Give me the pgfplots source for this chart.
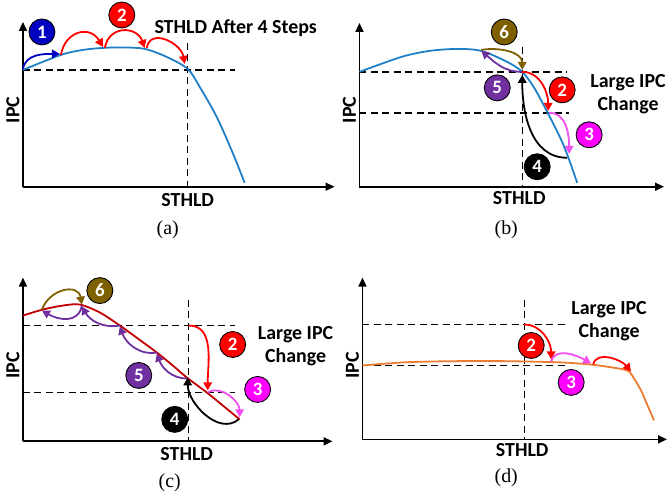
\documentclass[border=0pt]{standalone}
\usepackage{pgfplots}
\pgfplotsset{compat=1.18}
\usetikzlibrary{arrows.meta}
\usepackage{fontspec}
\setmainfont{Carlito}
\newfontfamily\capfont{Liberation Serif}
\definecolor{cblue}{HTML}{1F80C8}
\definecolor{dblue}{HTML}{0000C0}
\definecolor{cred}{HTML}{FF0000}
\definecolor{brn}{HTML}{7F6000}
\definecolor{purp}{HTML}{7030A0}
\definecolor{mag}{HTML}{FF00FF}
\definecolor{mag2}{HTML}{F050F0}
\definecolor{dred}{HTML}{C00000}
\definecolor{orng}{HTML}{ED7D31}
\pgfplotsset{sch/.style={axis lines=left, x=1bp, y=1bp, xmin=0, ymin=0,
  enlargelimits=false, xtick=\empty, ytick=\empty, clip=false, anchor=south west,
  axis line style={line width=1.7bp, -{Triangle[width=8bp,length=9bp]}}},
  dsh/.style={black, line width=1.4bp, dash pattern=on 7bp off 4.5bp, no markers}}
\tikzset{arr/.style={line width=1.8bp, -{Triangle[width=8.5bp,length=8bp]}},
  num/.style={circle, draw=black, line width=0.9bp, minimum size=26bp, inner sep=0pt,
    text=white, font=\bfseries\fontsize{19}{19}\selectfont},
  lab/.style={font=\bfseries\fontsize{20}{23}\selectfont, align=center},
  subcap/.style={font=\capfont\fontsize{20}{20}\selectfont}}
\begin{document}
\begin{tikzpicture}
\path (0,0) rectangle (669bp,496bp);
% ---------------- (a)
\begin{axis}[sch, at={(23bp,309bp)}, xmax=312, ymax=165]
\addplot[dsh] coordinates {(0,117) (212,117)};
\addplot[dsh] coordinates {(165,144) (165,0)};
\addplot[smooth, cblue, line width=1.8bp, no markers] coordinates {(0,117) (38,132) (60,137) (80,139) (100,139.5) (122,138) (144,130) (165,118) (177,100) (194,70) (210,34) (222,4)};
\draw[arr, dblue] (0,118) to[out=80,in=180] (37,133);
\draw[arr, cred] (38,132) to[out=80,in=120,looseness=1.5] (80,140);
\draw[arr, cred] (82,139) to[out=80,in=110,looseness=1.5] (122,139);
\draw[arr, cred] (124,139) to[out=80,in=100,looseness=1.3] (162,123);
\node[num, fill=dblue] at (19,155) {1};
\node[num, fill=cred] at (99,172) {2};
\node[lab] at (213,159) {STHLD After 4 Steps};
\node[lab, rotate=90] at (-10,77) {IPC};
\node[lab] at (165,-13) {STHLD};
\node[subcap] at (145,-43) {(a)};
\end{axis}
% ---------------- (b)
\begin{axis}[sch, at={(360bp,309bp)}, xmax=305, ymax=164]
\addplot[dsh] coordinates {(0,115) (208,115)};
\addplot[dsh] coordinates {(0,74) (210,74)};
\addplot[dsh] coordinates {(163,140) (163,0)};
\addplot[smooth, cblue, line width=1.8bp, no markers] coordinates {(0,115) (42,130) (70,136) (98,138) (122,136) (148,125) (163,115) (175,99) (188,75) (202,47) (210,27) (218,4)};
\draw[arr, brn] (122,137) to[out=10,in=90] (163,117);
\draw[arr, purp] (163,115) to[out=180,in=-40] (122,136);
\draw[arr, cred] (163,115) to[out=0,in=90] (189,76);
\draw[arr, mag2] (190,74) to[out=0,in=90] (210,33);
\draw[arr, black] (208,29) to[out=180,in=-90] (163,112);
\node[num, fill=brn] at (145,155) {6};
\node[num, fill=purp] at (138,99) {5};
\node[num, fill=cred] at (203,97) {2};
\node[num, fill=mag] at (230,52) {3};
\node[num, fill=black] at (178,20) {4};
\node[lab] at (269,93) {Large IPC\\Change};
\node[lab, rotate=90] at (-10,77) {IPC};
\node[lab] at (160,-11) {STHLD};
\node[subcap] at (147,-43) {(b)};
\end{axis}
% ---------------- (c)
\begin{axis}[sch, at={(23bp,54bp)}, xmax=310, ymax=164]
\addplot[dsh] coordinates {(0,116) (212,116)};
\addplot[dsh] coordinates {(0,49) (212,49)};
\addplot[dsh] coordinates {(166,142) (166,0)};
\addplot[smooth, dred, line width=1.8bp, no markers] coordinates {(0,126) (20,132) (40,136) (57,137) (77,129) (97,116) (115,103) (134,89) (150,76) (164,64) (184,49) (200,36) (217,22)};
\draw[arr, brn] (19,132) to[out=70,in=100,looseness=1.4] (59,137);
\draw[arr, purp] (59,136) to[out=-100,in=-30,looseness=1.2] (19,131);
\draw[arr, purp] (97,116) to[out=190,in=-60] (59,135);
\draw[arr, purp] (134,89) to[out=190,in=-70] (97,115);
\draw[arr, purp] (164,63) to[out=180,in=-70] (134,88);
\draw[arr, cred] (166,116) to[out=0,in=90] (185,51);
\draw[arr, mag2] (185,49) to[out=30,in=90] (217,24);
\draw[arr, black] (216,22) to[out=220,in=-90] (165,64);
\node[num, fill=brn] at (77,151) {6};
\node[num, fill=cred] at (210,97) {2};
\node[num, fill=purp] at (116,66) {5};
\node[num, fill=mag] at (235,52) {3};
\node[num, fill=black] at (152,22) {4};
\node[lab] at (273,95) {Large IPC\\Change};
\node[lab, rotate=90] at (-10,76) {IPC};
\node[lab] at (164,-13) {STHLD};
\node[subcap] at (147,-41) {(c)};
\end{axis}
% ---------------- (d)
\begin{axis}[sch, at={(363bp,56bp)}, xmax=305, ymax=162]
\addplot[dsh] coordinates {(0,115) (207,115)};
\addplot[dsh] coordinates {(0,74) (207,74)};
\addplot[dsh] coordinates {(162,140) (162,0)};
\addplot[smooth, orng, line width=1.8bp, no markers] coordinates {(0,74) (40,77) (72,78) (120,78.5) (162,78) (200,77) (228,75) (250,72) (265,69) (270,64) (279,49) (285,35) (292,19)};
\draw[arr, cred] (162,115) to[out=0,in=90] (189,80);
\draw[arr, mag2] (189,78) to[out=75,in=150] (229,76);
\draw[arr, cred] (231,75) to[out=75,in=130] (269,68);
\node[num, fill=cred] at (169,94) {2};
\node[num, fill=mag] at (209,57) {3};
\node[lab] at (247,118) {Large IPC\\Change};
\node[lab, rotate=90] at (-10,74) {IPC};
\node[lab] at (160,-11) {STHLD};
\node[subcap] at (144,-38) {(d)};
\end{axis}
\end{tikzpicture}
\end{document}
